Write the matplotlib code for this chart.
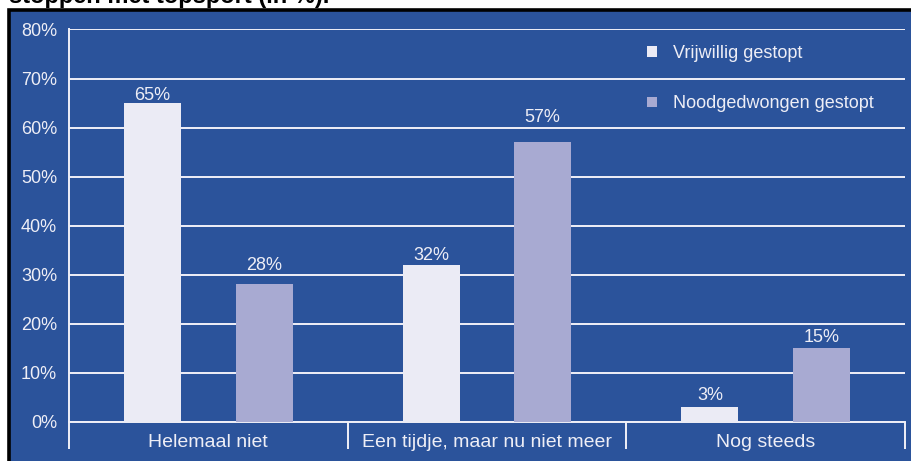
import numpy as np
import matplotlib.pyplot as plt
from matplotlib.patches import Rectangle

categories = ["Helemaal niet", "Een tijdje, maar nu niet meer", "Nog steeds"]
vrijwillig = [65, 32, 3]
noodgedwongen = [28, 57, 15]
series_names = ["Vrijwillig gestopt", "Noodgedwongen gestopt"]
yticks = [0, 10, 20, 30, 40, 50, 60, 70, 80]

# extra lift (points) of each value label above its bar, as in the original
lift_vrij = [-0.9, 0.4, 1.8]
lift_nood = [7.6, 11.5, 1.8]

BLUE = "#2b539b"
LIGHT = "#ebebf5"
LILAC = "#a8aad2"
TXT = "#eeeef6"
LINE = "#f0f0f8"

plt.rcParams["font.family"] = ["Liberation Sans", "DejaVu Sans"]

fig = plt.figure(figsize=(9.11, 4.61), dpi=100)
fig.patch.set_facecolor("white")

# blue panel with black frame
W, H = 911, 461
panel = Rectangle((8.5 / W, -0.05), 1.0, (H - 10.5) / H + 0.05,
                  transform=fig.transFigure, facecolor=BLUE,
                  edgecolor="black", lw=2.6, zorder=-5)
fig.patches.append(panel)

# title, cut off at the top edge like the source
fig.text(9 / W, 1 - 3 / H, "stoppen met topsport (in %).", fontsize=17,
         fontweight="bold", color="black", va="baseline", ha="left")

ax = fig.add_axes([69 / W, (H - 421.7) / H, (905 - 69) / W, (421.7 - 29.5) / H])
ax.set_facecolor(BLUE)

x = np.arange(len(categories))
b1 = ax.bar(x - 0.2, vrijwillig, width=0.205, color=LIGHT, zorder=3)
b2 = ax.bar(x + 0.2, noodgedwongen, width=0.205, color=LILAC, zorder=3)

for bars, lifts in ((b1, lift_vrij), (b2, lift_nood)):
    for rect, v, lift in zip(bars, bars.datavalues, lifts):
        ax.annotate(f"{v:g}%", (rect.get_x() + rect.get_width() / 2, v),
                    xytext=(0, lift), textcoords="offset points",
                    ha="center", va="bottom", color=TXT, fontsize=13,
                    zorder=4)

ax.set_xlim(-0.5, 2.5)
ax.set_ylim(0, 80)

ax.set_yticks(yticks)
ax.set_yticklabels([f"{t}%" for t in yticks])
ax.yaxis.grid(True, color=LINE, lw=1.4, zorder=1)
ax.set_axisbelow(True)
ax.tick_params(axis="y", length=0, pad=8.5, labelcolor=TXT, labelsize=13)

# group separators below the axis + category labels
ax.set_xticks([-0.5, 0.5, 1.5, 2.5])
ax.set_xticklabels([])
ax.set_xticks(x, minor=True)
ax.set_xticklabels(categories, minor=True)
ax.tick_params(axis="x", which="major", length=19.3, width=1.4,
               color=LINE, direction="out")
ax.tick_params(axis="x", which="minor", length=0, pad=8.5,
               labelcolor=TXT, labelsize=14)

for s in ("top", "right"):
    ax.spines[s].set_visible(False)
for s in ("left", "bottom"):
    ax.spines[s].set_color(LINE)
    ax.spines[s].set_linewidth(1.4)

leg = ax.legend([b1, b2], series_names, loc="upper left",
                bbox_to_anchor=(638 / W, 1 - 36 / H),
                bbox_transform=fig.transFigure, frameon=False,
                handlelength=0.55, handleheight=0.55, handletextpad=0.9,
                labelspacing=1.85, borderpad=0, fontsize=13)
for t in leg.get_texts():
    t.set_color(TXT)

fig.savefig("out.png", dpi=100, facecolor=fig.get_facecolor())
